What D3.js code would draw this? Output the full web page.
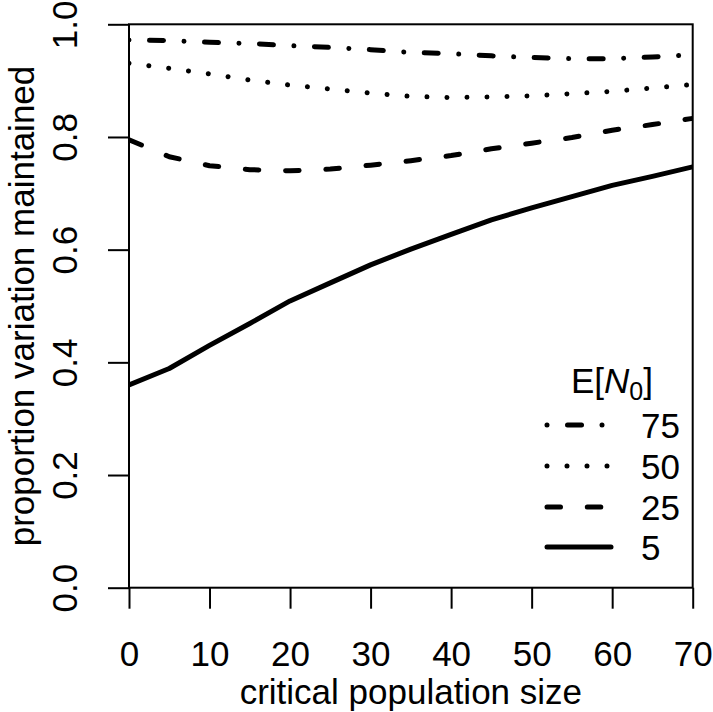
<!DOCTYPE html>
<html>
<head>
<meta charset="utf-8">
<script src="https://cdn.jsdelivr.net/npm/d3@7"></script>
<style>
  html, body { margin: 0; padding: 0; background: #fff; }
  svg { display: block; }
  text { font-family: "Liberation Sans", Arial, Helvetica, sans-serif; fill: #000; }
</style>
</head>
<body>
<svg id="chart" width="713" height="712"></svg>
<script>
// ---- data ----
const xValues = [0, 5, 10, 15, 20, 25, 30, 35, 40, 45, 50, 55, 60, 65, 70];
const seriesNames = ["75", "50", "25", "5"];
const values75 = [0.972, 0.971, 0.968, 0.966, 0.962, 0.959, 0.955, 0.950, 0.948, 0.944, 0.941, 0.939, 0.939, 0.942, 0.946];
const values50 = [0.931, 0.922, 0.912, 0.901, 0.892, 0.885, 0.878, 0.872, 0.870, 0.871, 0.873, 0.877, 0.881, 0.887, 0.893];
const values25 = [0.795, 0.765, 0.749, 0.742, 0.740, 0.743, 0.750, 0.758, 0.767, 0.779, 0.789, 0.799, 0.812, 0.822, 0.833];
const values5  = [0.360, 0.389, 0.430, 0.469, 0.509, 0.541, 0.573, 0.601, 0.627, 0.653, 0.674, 0.694, 0.714, 0.730, 0.747];
const xTicks = [0, 10, 20, 30, 40, 50, 60, 70];
const yTicks = [0.0, 0.2, 0.4, 0.6, 0.8, 1.0];
const xTitle = "critical population size";
const yTitle = "proportion variation maintained";

// ---- layout ----
const svg = d3.select("#chart");
const L = 129, R = 692.7, T = 24.3, B = 587.7;
const fontSize = 35;
const x = d3.scaleLinear().domain([0, 70]).range([L, R]);
const y = d3.scaleLinear().domain([0, 1]).range([B, T]);

const styles = {
  "75": "0.01 20.5 14 20.5",
  "50": "0.01 19.99",
  "25": "13.5 26.8",
  "5": null
};
const seriesData = { "75": values75, "50": values50, "25": values25, "5": values5 };

svg.append("defs").append("clipPath").attr("id", "plotclip")
  .append("rect").attr("x", L).attr("y", T).attr("width", R - L).attr("height", B - T);

const line = d3.line().x((d, i) => x(xValues[i])).y(d => y(d));

const plotG = svg.append("g").attr("clip-path", "url(#plotclip)");
seriesNames.forEach(name => {
  const p = plotG.append("path")
    .attr("d", line(seriesData[name]))
    .attr("fill", "none")
    .attr("stroke", "#000")
    .attr("stroke-width", 5)
    .attr("stroke-linecap", "round")
    .attr("stroke-linejoin", "round");
  if (styles[name]) p.attr("stroke-dasharray", styles[name]);
});

// box
svg.append("rect").attr("x", L).attr("y", T).attr("width", R - L).attr("height", B - T)
  .attr("fill", "none").attr("stroke", "#000").attr("stroke-width", 2);

// x axis
const xAxis = d3.axisBottom(x).tickValues(xTicks).tickSize(21).tickPadding(0).tickFormat(d3.format("d"));
const gx = svg.append("g").attr("transform", `translate(0,${B})`).call(xAxis);
gx.select(".domain").remove();
gx.selectAll(".tick line").attr("stroke", "#000").attr("stroke-width", 2);
gx.selectAll(".tick text")
  .attr("y", 666 - B).attr("dy", null)
  .attr("font-size", fontSize).attr("font-family", "Liberation Sans, Arial, sans-serif").attr("fill", "#000");

// y axis
const yAxis = d3.axisLeft(y).tickValues(yTicks).tickSize(21).tickPadding(0).tickFormat(d3.format(".1f"));
const gy = svg.append("g").attr("transform", `translate(${L},0)`).call(yAxis);
gy.select(".domain").remove();
gy.selectAll(".tick line").attr("stroke", "#000").attr("stroke-width", 2);
gy.selectAll(".tick text")
  .attr("x", null).attr("dy", null).attr("y", null)
  .attr("transform", `translate(${77 - L},0) rotate(-90)`)
  .attr("text-anchor", "middle")
  .attr("font-size", fontSize).attr("font-family", "Liberation Sans, Arial, sans-serif").attr("fill", "#000");

// axis titles
svg.append("text").attr("x", (L + R) / 2).attr("y", 704)
  .attr("text-anchor", "middle").attr("font-size", fontSize).text(xTitle);
svg.append("text")
  .attr("transform", `translate(34,${(T + B) / 2}) rotate(-90)`)
  .attr("text-anchor", "middle").attr("font-size", fontSize).text(yTitle);

// legend
const legRows = [425, 466, 507, 547];
const legX0 = 547, legX1 = 611, legTextX = 641;
const legG = svg.append("g");
seriesNames.forEach((name, i) => {
  const ly = legRows[i];
  const p = legG.append("path")
    .attr("d", d3.line()([[legX0, ly], [legX1, ly]]))
    .attr("fill", "none").attr("stroke", "#000").attr("stroke-width", 5)
    .attr("stroke-linecap", "round");
  if (styles[name]) p.attr("stroke-dasharray", styles[name]);
  legG.append("text").attr("x", legTextX).attr("y", ly + 12.5).attr("font-size", fontSize).text(name);
});
const title = legG.append("text").attr("x", 612).attr("y", 393)
  .attr("text-anchor", "middle").attr("font-size", fontSize);
title.append("tspan").text("E[");
title.append("tspan").attr("font-style", "italic").text("N");
title.append("tspan").attr("font-size", 25).attr("dy", 7).text("0");
title.append("tspan").attr("dy", -7).text("]");
</script>
</body>
</html>
